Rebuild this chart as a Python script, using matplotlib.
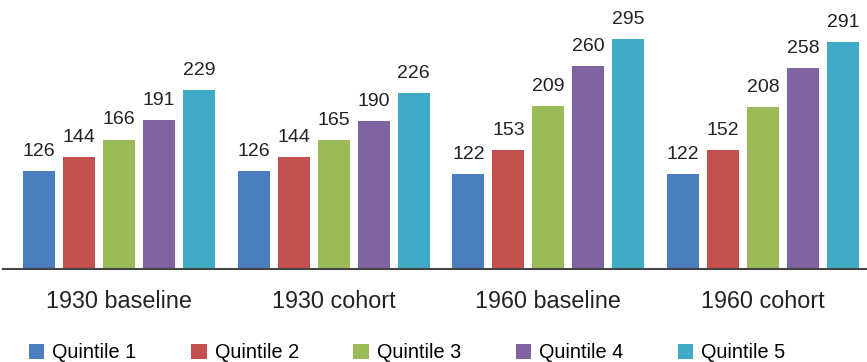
import numpy as np
import matplotlib.pyplot as plt

plt.rcParams['font.family'] = ['Liberation Sans', 'DejaVu Sans']

groups = ['1930 baseline', '1930 cohort', '1960 baseline', '1960 cohort']
quintiles = ['Quintile 1', 'Quintile 2', 'Quintile 3', 'Quintile 4', 'Quintile 5']
q1 = [126, 126, 122, 122]
q2 = [144, 144, 153, 152]
q3 = [166, 165, 209, 208]
q4 = [191, 190, 260, 258]
q5 = [229, 226, 295, 291]
colors = ['#4a7ebf', '#c4504e', '#9bbb59', '#8064a2', '#40abc6']

fig = plt.figure(figsize=(8.67, 3.62), dpi=100)
ax = fig.add_axes([3 / 867, 93 / 362, 864 / 867, 269 / 362])

x = np.arange(len(groups))
width = 32 / 215
step = 40 / 215
handles = []
for i, (vals, c, name) in enumerate(zip([q1, q2, q3, q4, q5], colors, quintiles)):
    bars = ax.bar(x + (i - 2) * step, vals, width, color=c, label=name)
    ax.bar_label(bars, padding=8, fontsize=14, color='#222222')
    handles.append(bars)

ax.set_xlim(-0.54, 3.484)
ax.set_ylim(0, 345)
ax.set_yticks([])
ax.set_xticks(x)
ax.set_xticklabels(groups, fontsize=16.8, color='#222222')
ax.tick_params(axis='x', length=0, pad=15)
for s in ['top', 'right', 'left']:
    ax.spines[s].set_visible(False)
ax.spines['bottom'].set_color('#444444')
ax.spines['bottom'].set_linewidth(1.5)

fig.legend(handles=handles, labels=quintiles, loc='lower left',
           bbox_to_anchor=(11 / 867, -0.05), ncol=5, frameon=False,
           fontsize=14.3, handlelength=0.78, handleheight=0.78,
           handletextpad=0.4, columnspacing=2.75)

fig.savefig('out.png', dpi=100)
